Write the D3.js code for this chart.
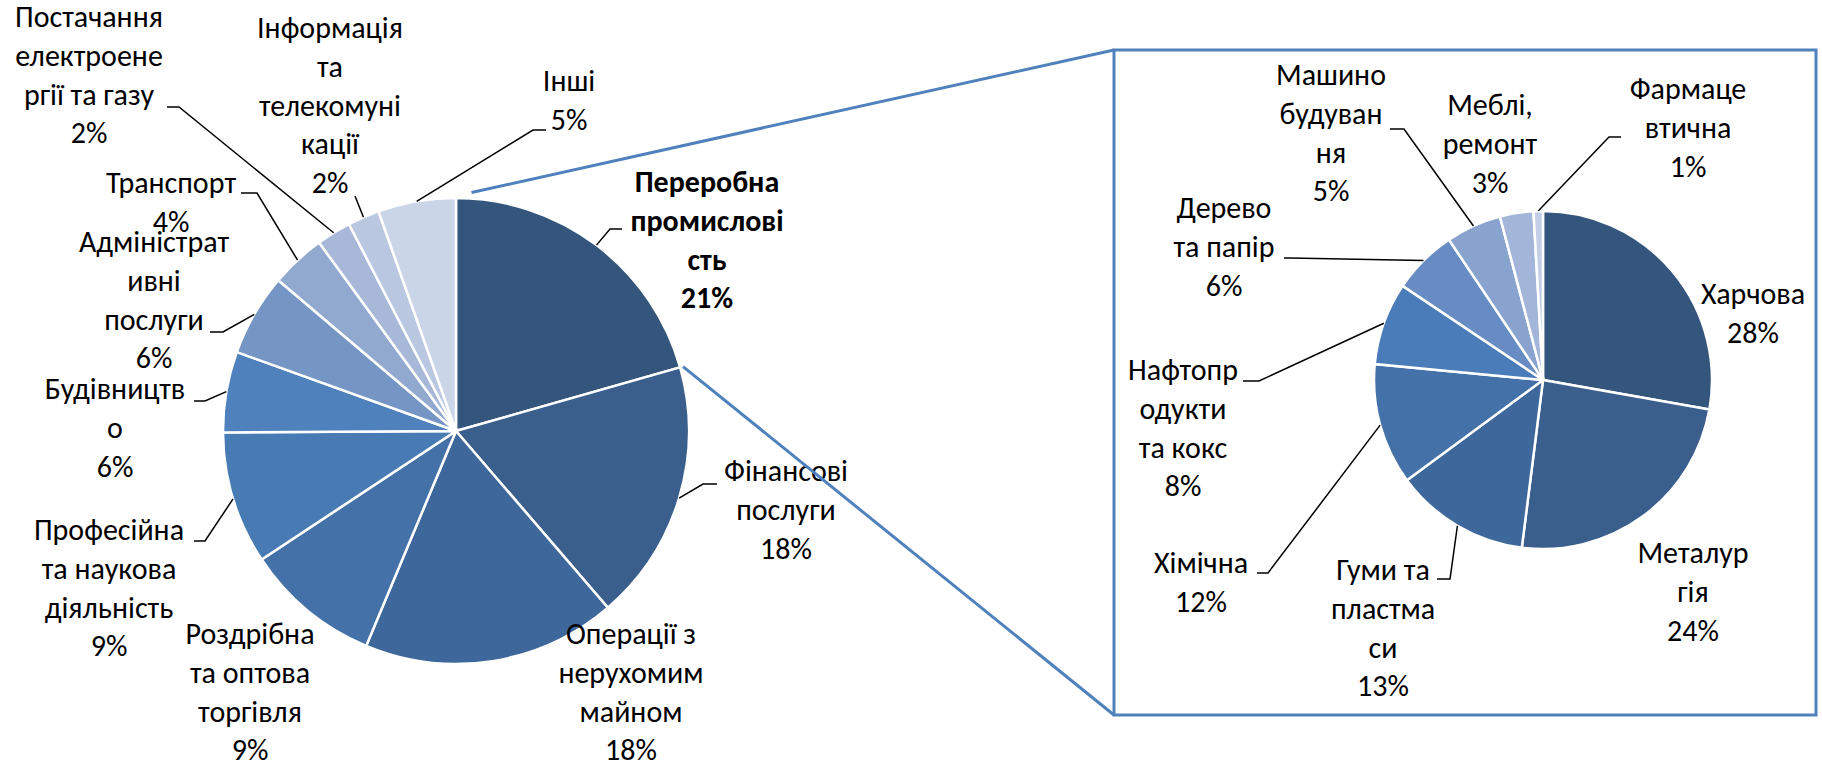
<!doctype html>
<html>
<head>
<meta charset="utf-8">
<style>
    body {
        margin: 0;
        background: #fff;
    }
    svg text {
        font-family: 'Carlito', 'Open Sans', sans-serif;
        font-size: 30px;
        fill: #000;
    }
    text.bold {
        font-weight: 700;
    }
    .slice {
        stroke: #fff;
        stroke-width: 2.5;
    }
    .leader {
        fill: none;
        stroke: #000;
        stroke-width: 1.5;
    }
    .connector, .box {
        fill: none;
        stroke: #4f81bd;
        stroke-width: 3;
    }
</style>
<script src="https://cdn.jsdelivr.net/npm/d3@7"></script>
</head>
<body>
<svg width="1822" height="766"></svg>
<script>
// main pie: sectors of the economy
const mainNames = [
    'Переробна|промислові|сть',
    'Фінансові|послуги',
    'Операції з|нерухомим|майном',
    'Роздрібна|та оптова|торгівля',
    'Професійна|та наукова|діяльність',
    'Будівництв|о',
    'Адміністрат|ивні|послуги',
    'Транспорт',
    'Постачання|електроене|ргії та газу',
    'Інформація|та|телекомуні|кації',
    'Інші'
];
const mainValues = [20.6, 18.1, 17.6, 9.4, 9.2, 5.6, 5.7, 3.8, 2.4, 2.2, 5.4];
const mainPct = ['21%', '18%', '18%', '9%', '9%', '6%', '6%', '4%', '2%', '2%', '5%'];

// second pie: breakdown of manufacturing
const subNames = [
    'Харчова',
    'Металур|гія',
    'Гуми та|пластма|си',
    'Хімічна',
    'Нафтопр|одукти|та кокс',
    'Дерево|та папір',
    'Машино|будуван|ня',
    'Меблі,|ремонт',
    'Фармаце|втична'
];
const subValues = [27.8, 24.2, 12.9, 11.6, 7.9, 6.2, 5.3, 3.2, 0.9];
const subPct = ['28%', '24%', '13%', '12%', '8%', '6%', '5%', '3%', '1%'];

const mainColors = ['#34567d', '#3a5f8d', '#3e679b', '#4371a8', '#487ab4', '#4f81bd',
                    '#7595c5', '#91a8cf', '#a7b8d9', '#b9c7e1', '#cbd5e8'];
const subColors = ['#34567d', '#3a5f8d', '#3e679b', '#4371a8', '#4a7cb9',
                   '#678cc3', '#89a3cf', '#a3b5d9', '#c3cfe6'];

// label placement: centre x, first baseline, leader knee, end of horizontal tick
const mainLabelPos = [
    {x: 707, y: 192, knee: [610, 229], endX: 622},
    {x: 786, y: 481, knee: [703, 484], endX: 717},
    {x: 631, y: 644},
    {x: 250, y: 644},
    {x: 109, y: 540, knee: [205, 541], endX: 194},
    {x: 115, y: 399, knee: [205, 401], endX: 194},
    {x: 154, y: 252, knee: [223, 332], endX: 210},
    {x: 171, y: 193, knee: [257, 193], endX: 241},
    {x: 89, y: 27, knee: [179, 107], endX: 167},
    {x: 330, y: 38, knee: [355, 196], endX: 355},
    {x: 569, y: 91, knee: [533, 130], endX: 546}
];
const subLabelPos = [
    {x: 1753, y: 304},
    {x: 1693, y: 563},
    {x: 1383, y: 580, knee: [1450, 579], endX: 1437},
    {x: 1201, y: 573, knee: [1268, 573], endX: 1257},
    {x: 1183, y: 380, knee: [1259, 381], endX: 1243},
    {x: 1224, y: 218, knee: [1290, 258], endX: 1284},
    {x: 1331, y: 85, knee: [1404, 129], endX: 1390},
    {x: 1490, y: 115},
    {x: 1688, y: 99, knee: [1609, 137], endX: 1621}
];

const lineH = 38.8;
const svg = d3.select('svg');

const mainPie = {cx: 456, cy: 431, r: 233};
const subPie = {cx: 1543, cy: 380, r: 169};
const box = {x: 1114, y: 50, w: 702, h: 665};

const pie = d3.pie().sort(null).value((d) => d);

function pointAt(p, angle, r) {
    return [p.cx + r * Math.sin(angle), p.cy - r * Math.cos(angle)];
}

function drawPie(p, names, values, pct, colors, pos, boldFirst) {
    const arcs = pie(values);
    const arc = d3.arc().innerRadius(0).outerRadius(p.r);

    const g = svg.append('g')
        .attr('transform', `translate(${p.cx}, ${p.cy})`);

    g.selectAll('path')
        .data(arcs)
        .enter()
        .append('path')
        .attr('class', 'slice')
        .attr('d', arc)
        .attr('fill', (d, i) => colors[i]);

    const line = d3.line();
    arcs.forEach((a, i) => {
        const lp = pos[i];
        if (lp.knee) {
            const mid = (a.startAngle + a.endAngle) / 2;
            const pts = [pointAt(p, mid, p.r), lp.knee, [lp.endX, lp.knee[1]]];
            svg.append('path')
                .attr('class', 'leader')
                .attr('d', line(pts));
        }
        const lines = names[i].split('|').concat([pct[i]]);
        const t = svg.append('text')
            .attr('text-anchor', 'middle')
            .classed('bold', boldFirst && i === 0);
        lines.forEach((s, k) => {
            t.append('tspan')
                .attr('x', lp.x)
                .attr('y', lp.y + k * lineH)
                .text(s);
        });
    });
    return arcs;
}

const mainArcs = drawPie(mainPie, mainNames, mainValues, mainPct, mainColors, mainLabelPos, true);

svg.append('rect')
    .attr('class', 'box')
    .attr('x', box.x)
    .attr('y', box.y)
    .attr('width', box.w)
    .attr('height', box.h);

drawPie(subPie, subNames, subValues, subPct, subColors, subLabelPos, false);

// lines from the manufacturing slice to the detail box
const m = mainArcs[0];
const p1 = pointAt(mainPie, m.startAngle + 0.065, mainPie.r + 6);
const p2 = pointAt(mainPie, m.endAngle, mainPie.r + 3);
svg.append('line')
    .attr('class', 'connector')
    .attr('x1', p1[0]).attr('y1', p1[1])
    .attr('x2', box.x).attr('y2', box.y);
svg.append('line')
    .attr('class', 'connector')
    .attr('x1', p2[0]).attr('y1', p2[1])
    .attr('x2', box.x).attr('y2', box.y + box.h);
</script>
</body>
</html>
